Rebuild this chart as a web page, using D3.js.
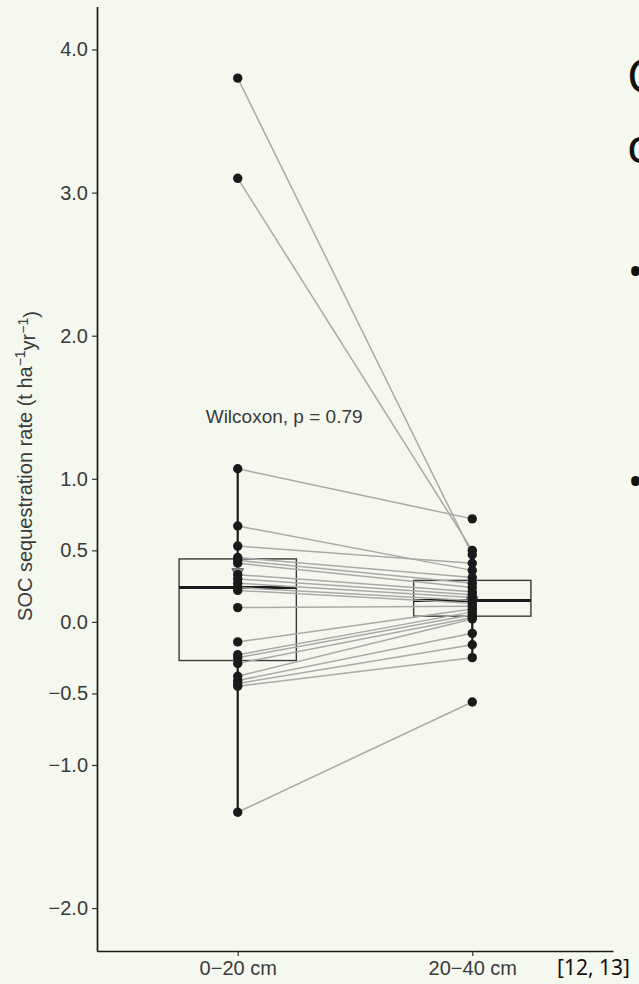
<!DOCTYPE html>
<html>
<head>
<meta charset="utf-8">
<script src="https://cdn.jsdelivr.net/npm/d3@7"></script>
<style>
  html, body { margin: 0; padding: 0; background: #f5f8ee; }
  svg { display: block; }
</style>
</head>
<body>
<script>
// ---------------- data ----------------
const categories = ["0\u221220 cm", "20\u221240 cm"];
// paired observations (same index = same site)
const depth0_20  = [3.80, 3.10, 1.07, 0.67, 0.53, 0.45, 0.43, 0.41, 0.33, 0.30, 0.27, 0.24, 0.22, 0.10, -0.14, -0.23, -0.25, -0.29, -0.38, -0.41, -0.43, -0.45, -1.33];
const depth20_40 = [0.47, 0.50, 0.72, 0.36, 0.41, 0.31, 0.27, 0.24, 0.21, 0.19, 0.17, 0.15, 0.13, 0.11, 0.09, 0.07, 0.05, 0.03, 0.02, -0.08, -0.16, -0.25, -0.56];
const yTicks = [-2.0, -1.0, -0.5, 0.0, 0.5, 1.0, 2.0, 3.0, 4.0];
const yDomain = [-2.3, 4.3];
const testLabel = "Wilcoxon, p = 0.79";
const testLabelValue = 1.39;   // vertical data position of the label
const slideLetters = ["C", "c"];
const slideBullets = ["\u2022", "\u2022"];
const citation = "[12, 13]";

// ---------------- layout ----------------
const W = 639, H = 984;
const svg = d3.select("body").append("svg").attr("width", W).attr("height", H);
svg.append("rect").attr("width", W).attr("height", H).attr("fill", "#f5f8ee");

const plot = { left: 97, right: 613, top: 6.6, bottom: 951 };
const y = d3.scaleLinear().domain(yDomain).range([plot.bottom, plot.top]);
const x = d3.scalePoint().domain(categories).range([plot.left, plot.right]).padding(0.6);
const boxW = x.step() * 0.5;
const font = "'Liberation Sans', Arial, Helvetica, sans-serif";
const fs = 20;

const series = [depth0_20, depth20_40];

function stats(vals) {
  const s = vals.slice().sort(d3.ascending);
  const q1 = d3.quantile(s, 0.25), med = d3.quantile(s, 0.5), q3 = d3.quantile(s, 0.75);
  const iqr = q3 - q1;
  const lo = d3.min(s.filter(v => v >= q1 - 1.5 * iqr));
  const hi = d3.max(s.filter(v => v <= q3 + 1.5 * iqr));
  return { q1, med, q3, lo, hi, mean: d3.mean(s) };
}

// ---------------- boxplots ----------------
const gBox = svg.append("g");
series.forEach((vals, i) => {
  const st = stats(vals);
  const cx = x(categories[i]);
  gBox.append("line").attr("x1", cx).attr("x2", cx).attr("y1", y(st.q3)).attr("y2", y(st.hi))
    .attr("stroke", "#1a1a1a").attr("stroke-width", 2.2);
  gBox.append("line").attr("x1", cx).attr("x2", cx).attr("y1", y(st.q1)).attr("y2", y(st.lo))
    .attr("stroke", "#1a1a1a").attr("stroke-width", 2.2);
  gBox.append("rect").attr("x", cx - boxW / 2).attr("width", boxW)
    .attr("y", y(st.q3)).attr("height", y(st.q1) - y(st.q3))
    .attr("fill", "none").attr("stroke", "#3a3a3a").attr("stroke-width", 1.4);
  gBox.append("line").attr("x1", cx - boxW / 2).attr("x2", cx + boxW / 2)
    .attr("y1", y(st.med)).attr("y2", y(st.med))
    .attr("stroke", "#1a1a1a").attr("stroke-width", 3);
});

// ---------------- paired lines ----------------
const gLines = svg.append("g");
depth0_20.forEach((v, k) => {
  gLines.append("line")
    .attr("x1", x(categories[0])).attr("y1", y(v))
    .attr("x2", x(categories[1])).attr("y2", y(depth20_40[k]))
    .attr("stroke", "#a9a9a9").attr("stroke-width", 1.5);
});

// ---------------- mean markers ----------------
const tri = d3.symbol().type(d3.symbolTriangle).size(60);
series.forEach((vals, i) => {
  const st = stats(vals);
  svg.append("path").attr("d", tri)
    .attr("transform", `translate(${x(categories[i])},${y(st.mean)}) rotate(180)`)
    .attr("fill", "#888").attr("stroke", "#666").attr("stroke-width", 1);
});

// ---------------- points ----------------
const gPts = svg.append("g");
series.forEach((vals, i) => {
  gPts.selectAll(null).data(vals).enter().append("circle")
    .attr("cx", x(categories[i])).attr("cy", d => y(d)).attr("r", 4.7)
    .attr("fill", "#1a1a1a");
});

// ---------------- axes ----------------
const yAxis = d3.axisLeft(y).tickValues(yTicks).tickFormat(d3.format(".1f"))
  .tickSize(5).tickSizeOuter(0).tickPadding(4);
const gy = svg.append("g").attr("transform", `translate(${plot.left},0)`).call(yAxis);
gy.select(".domain").attr("stroke", "#1a1a1a").attr("stroke-width", 1.7);
gy.selectAll(".tick line").attr("stroke", "#333").attr("stroke-width", 1.2);
gy.selectAll(".tick text").attr("font-family", font).attr("font-size", fs).attr("fill", "#3a3a3a");

const xAxis = d3.axisBottom(x).tickSize(5).tickSizeOuter(0).tickPadding(5);
const gx = svg.append("g").attr("transform", `translate(0,${plot.bottom})`).call(xAxis);
gx.select(".domain").attr("stroke", "#1a1a1a").attr("stroke-width", 1.7);
gx.selectAll(".tick line").attr("stroke", "#333").attr("stroke-width", 1.2);
gx.selectAll(".tick text").attr("font-family", font).attr("font-size", fs).attr("fill", "#3a3a3a");

// y axis title
const yt = svg.append("text")
  .attr("transform", `translate(32,466) rotate(-90)`)
  .attr("text-anchor", "middle").attr("font-family", font).attr("font-size", fs).attr("fill", "#3a3a3a");
yt.append("tspan").text("SOC sequestration rate (t ha");
yt.append("tspan").attr("dy", "-0.5em").attr("font-size", 14).text("\u22121");
yt.append("tspan").attr("dy", "0.5em").text("yr");
yt.append("tspan").attr("dy", "-0.5em").attr("font-size", 14).text("\u22121");
yt.append("tspan").attr("dy", "0.5em").text(")");

// test annotation
svg.append("text").attr("x", x(categories[0]) - 32).attr("y", y(testLabelValue))
  .attr("font-family", font).attr("font-size", 19).attr("fill", "#3a3a3a").text(testLabel);

// ---------------- slide remnants ----------------
const slideFont = "'Noto Sans', 'Open Sans', sans-serif";
[93, 163].forEach((by, i) => {
  svg.append("text").attr("x", 627).attr("y", by).attr("font-family", slideFont)
    .attr("font-size", 48).attr("fill", "#111").text(slideLetters[i]);
});
[272, 482].forEach((cy, i) => {
  svg.append("text").attr("x", 628).attr("y", cy + 14).attr("font-family", slideFont)
    .attr("font-size", 40).attr("fill", "#111").text(slideBullets[i]);
});
svg.append("text").attr("x", 557).attr("y", 975).attr("font-family", slideFont)
  .attr("font-size", 21).attr("fill", "#111").text(citation);
</script>
</body>
</html>
